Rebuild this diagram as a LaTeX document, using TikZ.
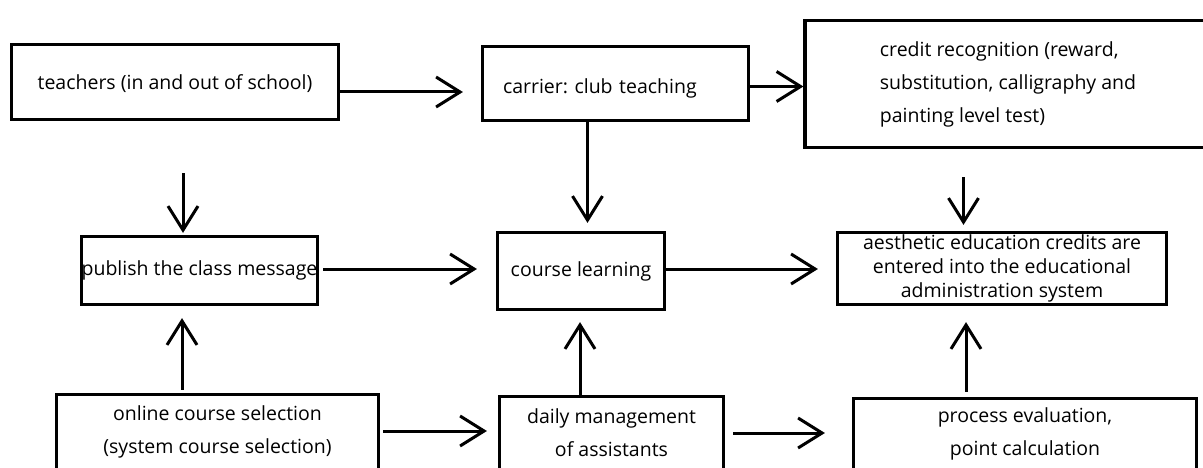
\documentclass[tikz,border=0pt]{standalone}
\usepackage{fontspec}
\setmainfont{Open Sans}
\usetikzlibrary{arrows.meta}
\frenchspacing
\begin{document}
\begin{tikzpicture}[x=1pt,y=-1pt,
  box/.style={draw, line width=3.2pt, rectangle, inner sep=0pt,
    font=\fontsize{19.5}{33}\selectfont, align=center},
  arr/.style={line width=3pt, -{Straight Barb[length=24pt,width=30pt]}}]
\useasboundingbox (0,0) rectangle (1203,468);
\clip (0,0) rectangle (1203,468);
% top row
\node[box, minimum width=327pt, minimum height=75pt, text height=20pt, text depth=5pt] (teachers) at (175,82) {teachers (in and out of school)};
\node[box, minimum width=266pt, minimum height=74pt, text width=225pt, align=left, text height=26pt, text depth=5pt] (carrier) at (615.5,83.5) {carrier: club teaching};
\node[box, minimum width=406pt, minimum height=127pt, align=left] (credit) at (1008,84) {credit recognition (reward,\\substitution, calligraphy and\\painting level test)};
% middle row
\node[box, minimum width=236pt, minimum height=68pt] (publish) at (199.5,270.5) {publish the class message};
\node[box, minimum width=167pt, minimum height=77pt] (course) at (581,271) {course learning};
\node[box, minimum width=329pt, minimum height=72pt, font=\fontsize{19.5}{24}\selectfont] (aesth) at (1002,268.5) {aesthetic education credits are\\entered into the educational\\administration system};
% bottom row
\node[box, minimum width=322pt, minimum height=75pt] (online) at (217.5,432) {online course selection\\(system course selection)};
\node[box, minimum width=224pt, minimum height=73pt] (daily) at (611.5,433) {daily management\\of assistants};
\node[box, minimum width=343pt, minimum height=71pt] (process) at (1025,434) {process evaluation,\\point calculation};
% connectors
\draw[arr, shorten >=18pt] ([yshift=-10pt]teachers.east) -- ([yshift=-10pt]teachers.east -| carrier.west);
\draw[arr] ([yshift=-3pt]carrier.east) -- ([yshift=-3pt]carrier.east -| credit.west);
\draw[arr, shorten >=8pt] ([xshift=-28pt]carrier.south) -- ([xshift=-28pt]carrier.south |- course.north);
\draw[arr, shorten <=52pt, shorten >=2pt] ([xshift=8pt]teachers.south) -- ([xshift=8pt]teachers.south |- publish.north);
\draw[arr, shorten <=4pt, shorten >=19pt] ([yshift=1.5pt]publish.east) -- ([yshift=1.5pt]publish.east -| course.west);
\draw[arr, shorten >=18pt] ([yshift=2pt]course.east) -- ([yshift=2pt]course.east -| aesth.west);
\draw[arr, shorten <=28pt, shorten >=6pt] ([xshift=-44.5pt]credit.south) -- ([xshift=-44.5pt]credit.south |- aesth.north);
\draw[arr, shorten <=3pt, shorten >=12pt] ([xshift=-35.5pt]online.north) -- ([xshift=-35.5pt]online.north |- publish.south);
\draw[arr, shorten <=3pt, shorten >=11pt] ([yshift=1pt]online.east) -- ([yshift=1pt]online.east -| daily.west);
\draw[arr, shorten >=11pt] ([xshift=-31.5pt]daily.north) -- ([xshift=-31.5pt]daily.north |- course.south);
\draw[arr, shorten <=8pt, shorten >=27pt] (daily.east) -- (daily.east -| process.west);
\draw[arr, shorten <=5pt, shorten >=16pt] ([xshift=-59pt]process.north) -- ([xshift=-59pt]process.north |- aesth.south);
\end{tikzpicture}
\end{document}
